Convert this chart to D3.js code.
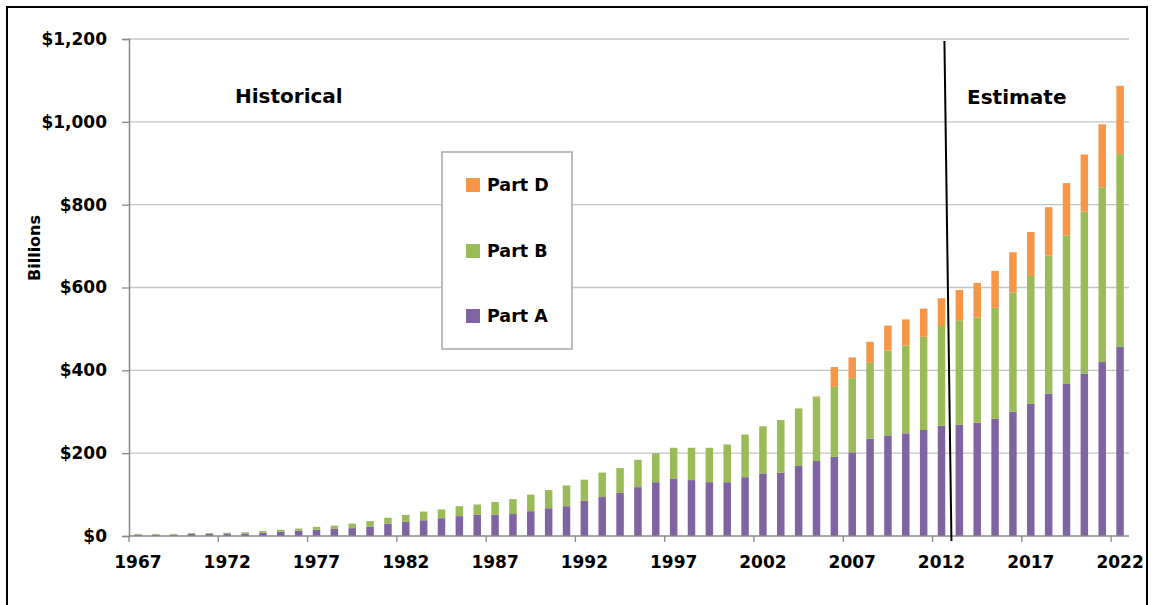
<!DOCTYPE html>
<html><head><meta charset="utf-8">
<script src="https://cdn.jsdelivr.net/npm/d3@7"></script>
<style>body{margin:0;background:#fff;}svg{display:block;font-family:"DejaVu Sans",sans-serif;font-weight:bold;}</style>
</head><body>
<svg id="c" width="1154" height="605"></svg>
<script>
const years = d3.range(1967, 2023);
const partA = [3,3,3,5,5,6,6,8,10,13,15,17,19,23,30,35,38,43,48,51,51,53,60,67,72,85,94,104,118,130,139,135,130,130,142,151,153,169,181,191,202,235,243,248,256,266,269,274,283,300,319,344,367,392,420,457];
const partB = [2,2,2,2,2,2,3,4,5,5,7,8,11,13,14,16,21,21,24,25,31,36,40,44,50,51,59,60,66,70,74,78,83,91,103,114,127,139,154,169,179,183,205,212,225,241,252,254,268,288,309,333,359,391,422,465];
const partD = [0,0,0,0,0,0,0,0,0,0,0,0,0,0,0,0,0,0,0,0,0,0,0,0,0,0,0,0,0,0,0,0,0,0,0,0,0,0,2,48,50,51,60,63,68,67,73,83,89,97,106,117,126,138,152,165];
const yTicks = [0,200,400,600,800,1000,1200];
const xLabels = [1967,1972,1977,1982,1987,1992,1997,2002,2007,2012,2017,2022];
const seriesNames = ["Part A","Part B","Part D"];
const colors = {"Part A":"#8064A2","Part B":"#9BBB59","Part D":"#F79646"};

const svg = d3.select("#c");
const L=129, R=1129, T=39, B=536;
const x = d3.scaleBand().domain(years).range([L,R]).paddingInner(0.58).paddingOuter(0.29);
const y = d3.scaleLinear().domain([0,1200]).range([B,T]);
const step = x.step();

// outer border
svg.append("rect").attr("x",7).attr("y",7).attr("width",1140).attr("height",610)
  .attr("fill","none").attr("stroke","#000").attr("stroke-width",2);

// gridlines
svg.append("g").selectAll("line").data(yTicks.slice(1)).join("line")
  .attr("x1",L).attr("x2",R).attr("y1",d=>y(d)).attr("y2",d=>y(d))
  .attr("stroke","#C4C4C4").attr("stroke-width",1.3);

// stacked bars
const table = years.map((yr,i)=>({year:yr,"Part A":partA[i],"Part B":partB[i],"Part D":partD[i]}));
const stack = d3.stack().keys(seriesNames)(table);
svg.append("g").selectAll("g").data(stack).join("g")
  .attr("fill",d=>colors[d.key])
  .selectAll("rect").data(d=>d).join("rect")
  .attr("x",d=>x(d.data.year)).attr("width",x.bandwidth())
  .attr("y",d=>y(d[1])).attr("height",d=>Math.max(0,y(d[0])-y(d[1])));

// y axis
const yAx = svg.append("g").attr("transform",`translate(${L},0)`)
  .call(d3.axisLeft(y).tickValues(yTicks).tickSize(7).tickPadding(15).tickFormat(d=>"$"+d3.format(",")(d)));
yAx.select(".domain").attr("stroke","#888").attr("stroke-width",1.5);
yAx.selectAll(".tick line").attr("stroke","#888").attr("stroke-width",1.3);
yAx.selectAll(".tick text").attr("font-size",17).attr("font-family","DejaVu Sans").attr("font-weight","bold").attr("fill","#000");

// x axis
const xAx = svg.append("g").attr("transform",`translate(0,${B})`)
  .call(d3.axisBottom(x).tickValues(xLabels).tickSize(0).tickPadding(20));
xAx.select(".domain").remove();
xAx.selectAll(".tick text").attr("font-size",17).attr("font-family","DejaVu Sans").attr("font-weight","bold").attr("fill","#000");
svg.append("line").attr("x1",L).attr("x2",R).attr("y1",B).attr("y2",B).attr("stroke","#888").attr("stroke-width",1.5);
svg.append("g").selectAll("line").data(d3.range(0,years.length+1,5)).join("line")
  .attr("x1",i=>L+i*step).attr("x2",i=>L+i*step).attr("y1",B).attr("y2",B+6)
  .attr("stroke","#888").attr("stroke-width",1.3);

// y title
svg.append("text").attr("transform","translate(40,248) rotate(-90)").attr("text-anchor","middle")
  .attr("font-size",16).text("Billions");

// divider line between 2012 and 2013
const bx = L + (years.indexOf(2013))*step;
svg.append("line").attr("x1",bx-6).attr("y1",41).attr("x2",bx+1).attr("y2",541)
  .attr("stroke","#000").attr("stroke-width",2);

svg.append("text").attr("x",235).attr("y",103).attr("font-size",20).text("Historical");
svg.append("text").attr("x",967).attr("y",104).attr("font-size",20).text("Estimate");

// legend
const lg = svg.append("g");
lg.append("rect").attr("x",442).attr("y",152).attr("width",130).attr("height",197)
  .attr("fill","#fff").attr("stroke","#A6A6A6").attr("stroke-width",1.5);
const legendItems = ["Part D","Part B","Part A"];
const ly = [185,251,316];
legendItems.forEach((k,i)=>{
  lg.append("rect").attr("x",466).attr("y",ly[i]-7).attr("width",14).attr("height",14).attr("fill",colors[k]);
  lg.append("text").attr("x",487).attr("y",ly[i]).attr("dy","0.36em").attr("font-size",17.5).text(k);
});
</script>
</body></html>
